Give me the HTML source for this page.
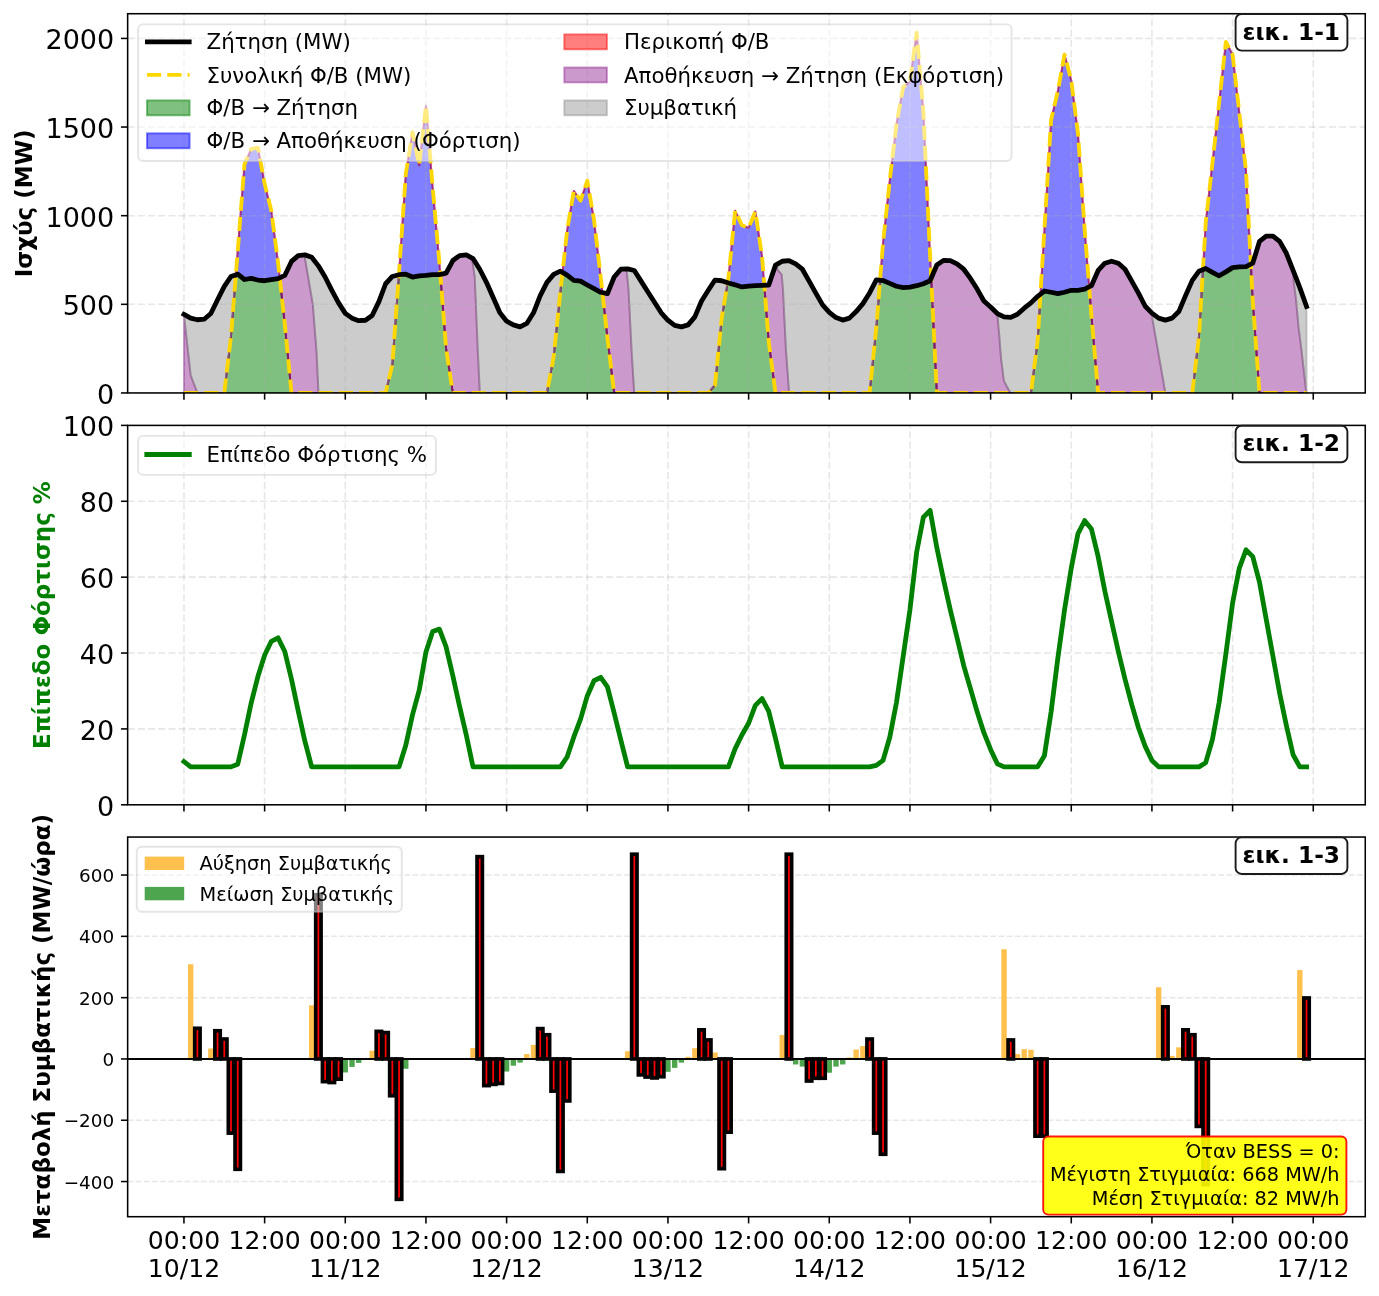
<!DOCTYPE html><html><head><meta charset="utf-8"><title>chart</title><style>html,body{margin:0;padding:0;background:#fff;}svg{display:block;}</style></head><body>
<svg width="1379" height="1296" viewBox="0 0 1379 1296" font-family="'DejaVu Sans', 'Liberation Sans', sans-serif">
<rect width="1379" height="1296" fill="#fff"/>
<defs><clipPath id="c1"><rect x="127.65" y="13.72" width="1237.61" height="379.23"/></clipPath><clipPath id="c2"><rect x="127.65" y="425.4" width="1237.61" height="379.4"/></clipPath><clipPath id="c3"><rect x="127.65" y="837.05" width="1237.61" height="379.65"/></clipPath></defs>
<g clip-path="url(#c1)">
<path d="M183.95 392.95 L224.28 392.95 L231 336.23 L235.84 274.96 L235.91 274.8 L237.73 274.18 L244.45 279.5 L251.17 278.44 L257.89 280.03 L264.62 280.74 L278.06 278.61 L279.67 277.85 L279.74 277.95 L284.78 323.82 L291.5 392.95 L385.61 392.95 L392.34 364.59 L398.92 274.75 L405.78 274.18 L412.5 277.02 L419.22 275.78 L425.95 275.42 L432.67 274.71 L439.39 274.54 L440.26 274.35 L446.11 348.63 L452.83 392.95 L546.94 392.95 L553.67 356.61 L560.39 291.73 L562.54 272.42 L567.11 275.07 L573.83 280.39 L580.55 281.1 L587.28 285 L596.28 289.92 L600.72 292.26 L602.4 292.62 L607.44 338 L614.16 392.95 L708.27 392.95 L715 385.15 L721.72 318.14 L727.63 282.77 L735.16 284.82 L741.88 286.95 L748.61 286.06 L764.27 285.23 L768.77 342.07 L775.49 392.95 L869.6 392.95 L876.33 327.36 L880.09 280.25 L883.05 280.56 L896.49 286.24 L903.21 287.65 L909.94 287.12 L916.66 285.7 L923.38 283.75 L930.1 280.74 L931.18 278.22 L936.83 392.95 L1030.93 392.95 L1037.66 340.66 L1040.48 294.11 L1044.38 291.02 L1051.1 292.26 L1057.82 293.68 L1064.55 292.26 L1071.27 290.31 L1077.99 290.31 L1084.71 289.07 L1089.15 286.85 L1091.43 315.49 L1098.16 392.95 L1192.27 392.95 L1198.99 336.23 L1202.95 269.6 L1205.71 268.51 L1212.43 272.41 L1219.15 275.78 L1225.88 271.88 L1232.6 267.62 L1239.32 266.91 L1246.04 266.56 L1250.81 264.17 L1252.76 300.95 L1259.49 392.95 L1306.54 392.95 L1306.54 392.95 L183.95 392.95 Z" fill="#008000" fill-opacity="0.5" stroke="#008000" stroke-opacity="0.5" stroke-width="1.92" stroke-linejoin="round"/>
<path d="M183.95 392.95 L224.28 392.95 L231 336.23 L244.45 164.28 L251.17 149.03 L257.89 147.62 L264.62 183.78 L271.34 210.72 L278.06 262.66 L284.78 323.82 L291.5 392.95 L385.61 392.95 L392.34 364.59 L399.06 272.41 L405.78 174.03 L412.5 132.19 L419.22 165.34 L425.95 105.78 L432.67 187.32 L439.39 262.48 L446.11 348.63 L452.83 392.95 L546.94 392.95 L553.67 356.61 L560.39 291.73 L567.11 230.4 L573.83 190.87 L580.55 200.62 L587.28 180.76 L594 219.76 L600.72 277.02 L607.44 338 L614.16 392.95 L708.27 392.95 L715 385.15 L721.72 318.14 L728.44 277.73 L735.16 210.72 L741.88 225.26 L748.61 227.92 L755.33 211.43 L762.05 256.46 L768.77 342.07 L775.49 392.95 L869.6 392.95 L876.33 327.36 L883.05 242.63 L889.77 180.23 L896.49 124.04 L903.21 86.99 L909.94 81.67 L916.66 32.57 L923.38 112.16 L930.1 255.92 L936.83 392.95 L1030.93 392.95 L1037.66 340.66 L1051.1 119.96 L1057.82 91.07 L1064.55 54.55 L1071.27 80.43 L1077.99 133.43 L1084.71 229.87 L1091.43 315.49 L1098.16 392.95 L1192.27 392.95 L1198.99 336.23 L1205.71 222.78 L1225.88 41.97 L1232.6 54.55 L1246.04 171.19 L1252.76 300.95 L1259.49 392.95 L1306.54 392.95 L1306.54 392.95 L1259.49 392.95 L1252.76 300.95 L1250.81 264.17 L1246.04 266.56 L1239.32 266.91 L1232.6 267.62 L1225.88 271.88 L1219.15 275.78 L1212.43 272.41 L1205.71 268.51 L1202.95 269.6 L1198.99 336.23 L1192.27 392.95 L1098.16 392.95 L1091.43 315.49 L1089.15 286.85 L1084.71 289.07 L1077.99 290.31 L1071.27 290.31 L1064.55 292.26 L1057.82 293.68 L1051.1 292.26 L1044.38 291.02 L1040.48 294.11 L1037.66 340.66 L1030.93 392.95 L936.83 392.95 L931.18 278.22 L930.1 280.74 L923.38 283.75 L916.66 285.7 L909.94 287.12 L903.21 287.65 L896.49 286.24 L883.05 280.56 L880.09 280.25 L876.33 327.36 L869.6 392.95 L775.49 392.95 L768.77 342.07 L764.27 285.23 L748.61 286.06 L741.88 286.95 L735.16 284.82 L727.63 282.77 L721.72 318.14 L715 385.15 L708.27 392.95 L614.16 392.95 L607.44 338 L602.4 292.62 L600.72 292.26 L596.28 289.92 L587.28 285 L580.55 281.1 L573.83 280.39 L567.11 275.07 L562.54 272.42 L560.39 291.73 L553.67 356.61 L546.94 392.95 L452.83 392.95 L446.11 348.63 L440.26 274.35 L439.39 274.54 L432.67 274.71 L425.95 275.42 L419.22 275.78 L412.5 277.02 L405.78 274.18 L398.92 274.75 L392.34 364.59 L385.61 392.95 L291.5 392.95 L284.78 323.82 L279.74 277.95 L279.67 277.85 L278.06 278.61 L264.62 280.74 L257.89 280.03 L251.17 278.44 L244.45 279.5 L237.73 274.18 L235.91 274.8 L235.84 274.96 L231 336.23 L224.28 392.95 L183.95 392.95 Z" fill="#0000ff" fill-opacity="0.5" stroke="#0000ff" stroke-opacity="0.5" stroke-width="1.92" stroke-linejoin="round"/>
<path d="M183.95 392.95 L224.28 392.95 L231 336.23 L244.45 164.28 L251.17 149.03 L257.89 147.62 L264.62 183.78 L271.34 210.72 L278.06 262.66 L284.78 323.82 L291.5 392.95 L385.61 392.95 L392.34 364.59 L399.06 272.41 L405.78 174.03 L412.5 132.19 L419.22 165.34 L425.95 105.78 L432.67 187.32 L439.39 262.48 L446.11 348.63 L452.83 392.95 L546.94 392.95 L553.67 356.61 L560.39 291.73 L567.11 230.4 L573.83 190.87 L580.55 200.62 L587.28 180.76 L594 219.76 L600.72 277.02 L607.44 338 L614.16 392.95 L708.27 392.95 L715 385.15 L721.72 318.14 L728.44 277.73 L735.16 210.72 L741.88 225.26 L748.61 227.92 L755.33 211.43 L762.05 256.46 L768.77 342.07 L775.49 392.95 L869.6 392.95 L876.33 327.36 L883.05 242.63 L889.77 180.23 L896.49 124.04 L903.21 86.99 L909.94 81.67 L916.66 32.57 L923.38 112.16 L930.1 255.92 L936.83 392.95 L1030.93 392.95 L1037.66 340.66 L1051.1 119.96 L1057.82 91.07 L1064.55 54.55 L1071.27 80.43 L1077.99 133.43 L1084.71 229.87 L1091.43 315.49 L1098.16 392.95 L1192.27 392.95 L1198.99 336.23 L1205.71 222.78 L1225.88 41.97 L1232.6 54.55 L1246.04 171.19 L1252.76 300.95 L1259.49 392.95 L1306.54 392.95 L1306.54 392.95 L1259.49 392.95 L1252.76 300.95 L1246.04 171.19 L1232.6 54.55 L1225.88 41.97 L1205.71 222.78 L1198.99 336.23 L1192.27 392.95 L1098.16 392.95 L1091.43 315.49 L1084.71 229.87 L1077.99 133.43 L1071.27 80.43 L1064.55 54.55 L1057.82 91.07 L1051.1 119.96 L1037.66 340.66 L1030.93 392.95 L936.83 392.95 L930.1 255.92 L923.38 112.16 L916.66 32.57 L909.94 81.67 L903.21 86.99 L896.49 124.04 L889.77 180.23 L883.05 242.63 L876.33 327.36 L869.6 392.95 L775.49 392.95 L768.77 342.07 L762.05 256.46 L755.33 211.43 L748.61 227.92 L741.88 225.26 L735.16 210.72 L728.44 277.73 L721.72 318.14 L715 385.15 L708.27 392.95 L614.16 392.95 L607.44 338 L600.72 277.02 L594 219.76 L587.28 180.76 L580.55 200.62 L573.83 190.87 L567.11 230.4 L560.39 291.73 L553.67 356.61 L546.94 392.95 L452.83 392.95 L446.11 348.63 L439.39 262.48 L432.67 187.32 L425.95 105.78 L419.22 165.34 L412.5 132.19 L405.78 174.03 L399.06 272.41 L392.34 364.59 L385.61 392.95 L291.5 392.95 L284.78 323.82 L278.06 262.66 L271.34 210.72 L264.62 183.78 L257.89 147.62 L251.17 149.03 L244.45 164.28 L231 336.23 L224.28 392.95 L183.95 392.95 Z" fill="#ff0000" fill-opacity="0.5" stroke="#ff0000" stroke-opacity="0.5" stroke-width="1.92" stroke-linejoin="round"/>
<path d="M183.95 314.42 L190.67 375.22 L197.39 392.95 L224.28 392.95 L231 336.23 L235.91 274.8 L237.73 274.18 L244.45 279.5 L251.17 278.44 L257.89 280.03 L264.62 280.74 L278.06 278.61 L284.78 275.42 L291.5 261.42 L298.23 255.57 L304.75 254.88 L304.81 257.34 L312.81 304.32 L316.51 351.12 L318.39 391.18 L318.73 392.95 L385.61 392.95 L392.34 364.59 L398.92 274.75 L405.78 274.18 L412.5 277.02 L419.22 275.78 L425.95 275.42 L432.67 274.71 L439.39 274.54 L446.11 273.12 L452.83 260.53 L459.56 255.57 L466.28 254.86 L472.19 258.14 L472.26 259.82 L474.75 277.02 L477.84 351.12 L479.72 390.65 L480.06 392.95 L546.94 392.95 L553.67 356.61 L560.39 291.73 L562.54 272.42 L567.11 275.07 L573.83 280.39 L580.55 281.1 L588.62 285.74 L600.72 292.26 L607.44 293.68 L614.16 277.02 L620.89 269.22 L626.67 268.91 L626.73 271.52 L628.55 289.43 L631.64 351.12 L634.13 391.18 L634.33 392.95 L708.27 392.95 L715 385.15 L721.72 318.14 L727.63 282.77 L735.16 284.82 L741.88 286.95 L748.61 286.06 L768.77 285 L775.49 265.14 L777.31 264.09 L777.38 269.57 L781.75 274.54 L782.96 289.43 L786.05 351.12 L789.14 392.95 L869.6 392.95 L876.33 327.36 L880.09 280.25 L883.05 280.56 L896.49 286.24 L903.21 287.65 L909.94 287.12 L916.66 285.7 L923.38 283.75 L930.1 280.74 L936.83 264.96 L943.55 260.36 L950.27 260.53 L956.99 263.9 L963.71 269.22 L970.44 278.44 L977.16 289.07 L983.88 300.95 L990.6 306.98 L997.32 313.54 L999.27 335.52 L1001.09 358.74 L1003.91 380.9 L1009.42 391.18 L1010.77 392.95 L1030.93 392.95 L1037.66 340.66 L1040.48 294.11 L1044.38 291.02 L1051.1 292.26 L1057.82 293.68 L1064.55 292.26 L1071.27 290.31 L1077.99 290.31 L1084.71 289.07 L1091.43 285.7 L1098.16 270.46 L1104.88 263.19 L1111.6 261.24 L1118.32 263.19 L1125.04 269.22 L1138.49 293.15 L1145.21 306.27 L1151.87 313.11 L1151.93 316.19 L1165.38 392.95 L1192.27 392.95 L1198.99 336.23 L1202.95 269.6 L1205.71 268.51 L1212.43 272.41 L1219.15 275.78 L1225.88 271.88 L1232.6 267.62 L1239.32 266.91 L1246.04 266.56 L1252.76 263.19 L1259.49 241.39 L1266.21 236.07 L1272.93 236.07 L1279.65 241.39 L1286.37 253.27 L1293.5 271.49 L1293.57 280.74 L1295.99 299.18 L1298.47 326.3 L1301.57 350.94 L1305.94 389.05 L1306.54 392.95 L1306.54 392.95 L1259.49 392.95 L1252.76 300.95 L1250.81 264.17 L1246.04 266.56 L1239.32 266.91 L1232.6 267.62 L1225.88 271.88 L1219.15 275.78 L1212.43 272.41 L1205.71 268.51 L1202.95 269.6 L1198.99 336.23 L1192.27 392.95 L1098.16 392.95 L1091.43 315.49 L1089.15 286.85 L1084.71 289.07 L1077.99 290.31 L1071.27 290.31 L1064.55 292.26 L1057.82 293.68 L1051.1 292.26 L1044.38 291.02 L1040.48 294.11 L1037.66 340.66 L1030.93 392.95 L936.83 392.95 L931.18 278.22 L930.1 280.74 L923.38 283.75 L916.66 285.7 L909.94 287.12 L903.21 287.65 L896.49 286.24 L883.05 280.56 L880.09 280.25 L876.33 327.36 L869.6 392.95 L775.49 392.95 L768.77 342.07 L764.27 285.23 L748.61 286.06 L741.88 286.95 L735.16 284.82 L727.63 282.77 L721.72 318.14 L715 385.15 L708.27 392.95 L614.16 392.95 L607.44 338 L602.4 292.62 L600.72 292.26 L596.28 289.92 L587.28 285 L580.55 281.1 L573.83 280.39 L567.11 275.07 L562.54 272.42 L560.39 291.73 L553.67 356.61 L546.94 392.95 L452.83 392.95 L446.11 348.63 L440.26 274.35 L439.39 274.54 L432.67 274.71 L425.95 275.42 L419.22 275.78 L412.5 277.02 L405.78 274.18 L398.92 274.75 L392.34 364.59 L385.61 392.95 L291.5 392.95 L284.78 323.82 L279.74 277.95 L279.67 277.85 L278.06 278.61 L264.62 280.74 L257.89 280.03 L251.17 278.44 L244.45 279.5 L237.73 274.18 L235.91 274.8 L235.84 274.96 L231 336.23 L224.28 392.95 L183.95 392.95 Z" fill="#800080" fill-opacity="0.4" stroke="#800080" stroke-opacity="0.4" stroke-width="1.92" stroke-linejoin="round"/>
<path d="M183.95 314.42 L190.67 318.14 L194.3 319.01 L197.39 319.74 L204.12 319.21 L210.84 313.54 L217.56 299.71 L224.28 286.41 L231 276.49 L237.73 274.18 L244.45 279.5 L251.17 278.44 L257.89 280.03 L264.62 280.74 L278.06 278.61 L284.78 275.42 L291.5 261.42 L298.23 255.57 L304.95 254.86 L311.67 257.17 L318.39 265.85 L325.11 277.02 L331.84 290.31 L338.56 302.9 L345.28 313.36 L352 318.14 L358.72 320.63 L365.45 320.27 L372.17 315.49 L378.89 301.66 L385.61 283.75 L392.34 276.49 L399.06 274.71 L405.78 274.18 L412.5 277.02 L419.22 275.78 L425.95 275.42 L432.67 274.71 L439.39 274.54 L446.11 273.12 L452.83 260.53 L459.56 255.57 L466.28 254.86 L473 258.58 L479.72 269.22 L486.44 282.34 L499.89 312.83 L506.61 321.16 L513.33 324.88 L520.06 326.83 L526.78 323.46 L533.5 312.83 L540.22 295.63 L546.94 282.34 L553.67 274.36 L560.39 271.17 L567.11 275.07 L573.83 280.39 L580.55 281.1 L588.62 285.74 L600.72 292.26 L607.44 293.68 L614.16 277.02 L620.89 269.22 L627.61 268.86 L634.33 270.46 L661.22 312.83 L667.94 320.27 L674.66 325.41 L681.39 326.83 L688.11 324.88 L694.83 316.9 L701.55 300.95 L708.27 290.31 L715 280.03 L721.72 280.74 L728.44 283.05 L735.16 284.82 L741.88 286.95 L748.61 286.06 L768.77 285 L775.49 265.14 L782.22 261.24 L788.94 260.53 L795.66 263.9 L802.38 269.22 L815.83 293.15 L822.55 304.85 L825.31 307.9 L829.27 312.29 L835.99 317.61 L842.72 320.09 L849.44 318.14 L856.16 311.59 L862.88 303.61 L869.6 292.97 L876.33 279.85 L883.05 280.56 L896.49 286.24 L903.21 287.65 L909.94 287.12 L916.66 285.7 L919.15 284.98 L923.38 283.75 L930.1 280.74 L936.83 264.96 L943.55 260.36 L950.27 260.53 L956.99 263.9 L963.71 269.22 L970.44 278.44 L977.16 289.07 L983.88 300.95 L990.6 306.98 L997.32 313.54 L1004.05 316.9 L1010.77 317.44 L1017.49 314.24 L1024.21 308.22 L1030.93 302.9 L1037.66 296.34 L1044.38 291.02 L1051.1 292.26 L1057.82 293.68 L1064.55 292.26 L1071.27 290.31 L1077.99 290.31 L1084.71 289.07 L1091.43 285.7 L1098.16 270.46 L1104.88 263.19 L1111.6 261.24 L1118.32 263.19 L1125.04 269.22 L1138.49 293.15 L1145.21 306.27 L1151.93 313.18 L1158.65 318.14 L1165.38 320.09 L1172.1 318.14 L1178.82 311.59 L1185.54 295.63 L1192.27 280.39 L1198.99 271.17 L1205.71 268.51 L1212.43 272.41 L1219.15 275.78 L1225.88 271.88 L1232.6 267.62 L1239.32 266.91 L1246.04 266.56 L1252.76 263.19 L1259.49 241.39 L1266.21 236.07 L1272.93 236.07 L1279.65 241.39 L1286.37 253.27 L1299.82 287.65 L1306.54 306.44 L1306.54 392.95 L1305.94 389.05 L1301.57 350.94 L1298.47 326.3 L1295.99 299.18 L1293.57 280.74 L1293.5 271.49 L1286.37 253.27 L1279.65 241.39 L1272.93 236.07 L1266.21 236.07 L1259.49 241.39 L1252.76 263.19 L1246.04 266.56 L1239.32 266.91 L1232.6 267.62 L1225.88 271.88 L1219.15 275.78 L1212.43 272.41 L1205.71 268.51 L1202.95 269.6 L1198.99 336.23 L1192.27 392.95 L1165.38 392.95 L1151.93 316.19 L1151.87 313.11 L1145.21 306.27 L1138.49 293.15 L1125.04 269.22 L1118.32 263.19 L1111.6 261.24 L1104.88 263.19 L1098.16 270.46 L1091.43 285.7 L1084.71 289.07 L1077.99 290.31 L1071.27 290.31 L1064.55 292.26 L1057.82 293.68 L1051.1 292.26 L1044.38 291.02 L1040.48 294.11 L1037.66 340.66 L1030.93 392.95 L1010.77 392.95 L1009.42 391.18 L1003.91 380.9 L1001.09 358.74 L999.27 335.52 L997.32 313.54 L990.6 306.98 L983.88 300.95 L977.16 289.07 L970.44 278.44 L963.71 269.22 L956.99 263.9 L950.27 260.53 L943.55 260.36 L936.83 264.96 L930.1 280.74 L923.38 283.75 L916.66 285.7 L909.94 287.12 L903.21 287.65 L896.49 286.24 L883.05 280.56 L880.09 280.25 L876.33 327.36 L869.6 392.95 L789.14 392.95 L786.05 351.12 L782.96 289.43 L781.75 274.54 L777.38 269.57 L777.31 264.09 L775.49 265.14 L768.77 285 L748.61 286.06 L741.88 286.95 L735.16 284.82 L727.63 282.77 L721.72 318.14 L715 385.15 L708.27 392.95 L634.33 392.95 L634.13 391.18 L631.64 351.12 L628.55 289.43 L626.73 271.52 L626.67 268.91 L620.89 269.22 L614.16 277.02 L607.44 293.68 L600.72 292.26 L588.62 285.74 L580.55 281.1 L573.83 280.39 L567.11 275.07 L562.54 272.42 L560.39 291.73 L553.67 356.61 L546.94 392.95 L480.06 392.95 L479.72 390.65 L477.84 351.12 L474.75 277.02 L472.26 259.82 L472.19 258.14 L466.28 254.86 L459.56 255.57 L452.83 260.53 L446.11 273.12 L439.39 274.54 L432.67 274.71 L425.95 275.42 L419.22 275.78 L412.5 277.02 L405.78 274.18 L398.92 274.75 L392.34 364.59 L385.61 392.95 L318.73 392.95 L318.39 391.18 L316.51 351.12 L312.81 304.32 L304.81 257.34 L304.75 254.88 L298.23 255.57 L291.5 261.42 L284.78 275.42 L278.06 278.61 L264.62 280.74 L257.89 280.03 L251.17 278.44 L244.45 279.5 L237.73 274.18 L235.91 274.8 L231 336.23 L224.28 392.95 L197.39 392.95 L190.67 375.22 L183.95 314.42 Z" fill="#808080" fill-opacity="0.4" stroke="#808080" stroke-opacity="0.4" stroke-width="1.92" stroke-linejoin="round"/>
<line x1="183.95" y1="392.95" x2="183.95" y2="13.72" stroke="#b0b0b0" stroke-opacity="0.3" stroke-width="1.6" stroke-dasharray="7.11 3.07" fill="none"/>
<line x1="264.62" y1="392.95" x2="264.62" y2="13.72" stroke="#b0b0b0" stroke-opacity="0.3" stroke-width="1.6" stroke-dasharray="7.11 3.07" fill="none"/>
<line x1="345.28" y1="392.95" x2="345.28" y2="13.72" stroke="#b0b0b0" stroke-opacity="0.3" stroke-width="1.6" stroke-dasharray="7.11 3.07" fill="none"/>
<line x1="425.95" y1="392.95" x2="425.95" y2="13.72" stroke="#b0b0b0" stroke-opacity="0.3" stroke-width="1.6" stroke-dasharray="7.11 3.07" fill="none"/>
<line x1="506.61" y1="392.95" x2="506.61" y2="13.72" stroke="#b0b0b0" stroke-opacity="0.3" stroke-width="1.6" stroke-dasharray="7.11 3.07" fill="none"/>
<line x1="587.28" y1="392.95" x2="587.28" y2="13.72" stroke="#b0b0b0" stroke-opacity="0.3" stroke-width="1.6" stroke-dasharray="7.11 3.07" fill="none"/>
<line x1="667.94" y1="392.95" x2="667.94" y2="13.72" stroke="#b0b0b0" stroke-opacity="0.3" stroke-width="1.6" stroke-dasharray="7.11 3.07" fill="none"/>
<line x1="748.61" y1="392.95" x2="748.61" y2="13.72" stroke="#b0b0b0" stroke-opacity="0.3" stroke-width="1.6" stroke-dasharray="7.11 3.07" fill="none"/>
<line x1="829.27" y1="392.95" x2="829.27" y2="13.72" stroke="#b0b0b0" stroke-opacity="0.3" stroke-width="1.6" stroke-dasharray="7.11 3.07" fill="none"/>
<line x1="909.94" y1="392.95" x2="909.94" y2="13.72" stroke="#b0b0b0" stroke-opacity="0.3" stroke-width="1.6" stroke-dasharray="7.11 3.07" fill="none"/>
<line x1="990.6" y1="392.95" x2="990.6" y2="13.72" stroke="#b0b0b0" stroke-opacity="0.3" stroke-width="1.6" stroke-dasharray="7.11 3.07" fill="none"/>
<line x1="1071.27" y1="392.95" x2="1071.27" y2="13.72" stroke="#b0b0b0" stroke-opacity="0.3" stroke-width="1.6" stroke-dasharray="7.11 3.07" fill="none"/>
<line x1="1151.93" y1="392.95" x2="1151.93" y2="13.72" stroke="#b0b0b0" stroke-opacity="0.3" stroke-width="1.6" stroke-dasharray="7.11 3.07" fill="none"/>
<line x1="1232.6" y1="392.95" x2="1232.6" y2="13.72" stroke="#b0b0b0" stroke-opacity="0.3" stroke-width="1.6" stroke-dasharray="7.11 3.07" fill="none"/>
<line x1="1313.26" y1="392.95" x2="1313.26" y2="13.72" stroke="#b0b0b0" stroke-opacity="0.3" stroke-width="1.6" stroke-dasharray="7.11 3.07" fill="none"/>
<line x1="127.65" y1="304.32" x2="1365.26" y2="304.32" stroke="#b0b0b0" stroke-opacity="0.3" stroke-width="1.6" stroke-dasharray="7.11 3.07" fill="none"/>
<line x1="127.65" y1="215.68" x2="1365.26" y2="215.68" stroke="#b0b0b0" stroke-opacity="0.3" stroke-width="1.6" stroke-dasharray="7.11 3.07" fill="none"/>
<line x1="127.65" y1="127.05" x2="1365.26" y2="127.05" stroke="#b0b0b0" stroke-opacity="0.3" stroke-width="1.6" stroke-dasharray="7.11 3.07" fill="none"/>
<line x1="127.65" y1="38.42" x2="1365.26" y2="38.42" stroke="#b0b0b0" stroke-opacity="0.3" stroke-width="1.6" stroke-dasharray="7.11 3.07" fill="none"/>
<path d="M183.95 392.95 L190.67 392.95 L197.39 392.95 L204.12 392.95 L210.84 392.95 L217.56 392.95 L224.28 392.95 L231 336.23 L237.73 251.14 L244.45 164.28 L251.17 149.03 L257.89 147.62 L264.62 183.78 L271.34 210.72 L278.06 262.66 L284.78 323.82 L291.5 392.95 L298.23 392.95 L304.95 392.95 L311.67 392.95 L318.39 392.95 L325.11 392.95 L331.84 392.95 L338.56 392.95 L345.28 392.95 L352 392.95 L358.72 392.95 L365.45 392.95 L372.17 392.95 L378.89 392.95 L385.61 392.95 L392.34 364.59 L399.06 272.41 L405.78 174.03 L412.5 132.19 L419.22 165.34 L425.95 105.78 L432.67 187.32 L439.39 262.48 L446.11 348.63 L452.83 392.95 L459.56 392.95 L466.28 392.95 L473 392.95 L479.72 392.95 L486.44 392.95 L493.17 392.95 L499.89 392.95 L506.61 392.95 L513.33 392.95 L520.06 392.95 L526.78 392.95 L533.5 392.95 L540.22 392.95 L546.94 392.95 L553.67 356.61 L560.39 291.73 L567.11 230.4 L573.83 190.87 L580.55 200.62 L587.28 180.76 L594 219.76 L600.72 277.02 L607.44 338 L614.16 392.95 L620.89 392.95 L627.61 392.95 L634.33 392.95 L641.05 392.95 L647.77 392.95 L654.5 392.95 L661.22 392.95 L667.94 392.95 L674.66 392.95 L681.39 392.95 L688.11 392.95 L694.83 392.95 L701.55 392.95 L708.27 392.95 L715 385.15 L721.72 318.14 L728.44 277.73 L735.16 210.72 L741.88 225.26 L748.61 227.92 L755.33 211.43 L762.05 256.46 L768.77 342.07 L775.49 392.95 L782.22 392.95 L788.94 392.95 L795.66 392.95 L802.38 392.95 L809.11 392.95 L815.83 392.95 L822.55 392.95 L829.27 392.95 L835.99 392.95 L842.72 392.95 L849.44 392.95 L856.16 392.95 L862.88 392.95 L869.6 392.95 L876.33 327.36 L883.05 242.63 L889.77 180.23 L896.49 124.04 L903.21 86.99 L909.94 81.67 L916.66 32.57 L923.38 112.16 L930.1 255.92 L936.83 392.95 L943.55 392.95 L950.27 392.95 L956.99 392.95 L963.71 392.95 L970.44 392.95 L977.16 392.95 L983.88 392.95 L990.6 392.95 L997.32 392.95 L1004.05 392.95 L1010.77 392.95 L1017.49 392.95 L1024.21 392.95 L1030.93 392.95 L1037.66 340.66 L1044.38 229.33 L1051.1 119.96 L1057.82 91.07 L1064.55 54.55 L1071.27 80.43 L1077.99 133.43 L1084.71 229.87 L1091.43 315.49 L1098.16 392.95 L1104.88 392.95 L1111.6 392.95 L1118.32 392.95 L1125.04 392.95 L1131.77 392.95 L1138.49 392.95 L1145.21 392.95 L1151.93 392.95 L1158.65 392.95 L1165.38 392.95 L1172.1 392.95 L1178.82 392.95 L1185.54 392.95 L1192.27 392.95 L1198.99 336.23 L1205.71 222.78 L1212.43 163.21 L1219.15 102.24 L1225.88 41.97 L1232.6 54.55 L1239.32 112.87 L1246.04 171.19 L1252.76 300.95 L1259.49 392.95 L1266.21 392.95 L1272.93 392.95 L1279.65 392.95 L1286.37 392.95 L1293.1 392.95 L1299.82 392.95 L1306.54 392.95" fill="none" stroke="#ffd700" stroke-width="3.84" stroke-dasharray="14.2 6.1" stroke-linejoin="round"/>
<path d="M183.95 314.42 L190.67 318.14 L197.39 319.74 L204.12 319.21 L210.84 313.54 L217.56 299.71 L224.28 286.41 L231 276.49 L237.73 274.18 L244.45 279.5 L251.17 278.44 L257.89 280.03 L264.62 280.74 L271.34 279.68 L278.06 278.61 L284.78 275.42 L291.5 261.42 L298.23 255.57 L304.95 254.86 L311.67 257.17 L318.39 265.85 L325.11 277.02 L331.84 290.31 L338.56 302.9 L345.28 313.36 L352 318.14 L358.72 320.63 L365.45 320.27 L372.17 315.49 L378.89 301.66 L385.61 283.75 L392.34 276.49 L399.06 274.71 L405.78 274.18 L412.5 277.02 L419.22 275.78 L425.95 275.42 L432.67 274.71 L439.39 274.54 L446.11 273.12 L452.83 260.53 L459.56 255.57 L466.28 254.86 L473 258.58 L479.72 269.22 L486.44 282.34 L493.17 297.58 L499.89 312.83 L506.61 321.16 L513.33 324.88 L520.06 326.83 L526.78 323.46 L533.5 312.83 L540.22 295.63 L546.94 282.34 L553.67 274.36 L560.39 271.17 L567.11 275.07 L573.83 280.39 L580.55 281.1 L587.28 285 L594 288.72 L600.72 292.26 L607.44 293.68 L614.16 277.02 L620.89 269.22 L627.61 268.86 L634.33 270.46 L641.05 281.1 L647.77 291.73 L654.5 302.19 L661.22 312.83 L667.94 320.27 L674.66 325.41 L681.39 326.83 L688.11 324.88 L694.83 316.9 L701.55 300.95 L708.27 290.31 L715 280.03 L721.72 280.74 L728.44 283.05 L735.16 284.82 L741.88 286.95 L748.61 286.06 L755.33 285.7 L762.05 285.35 L768.77 285 L775.49 265.14 L782.22 261.24 L788.94 260.53 L795.66 263.9 L802.38 269.22 L809.11 281.1 L815.83 293.15 L822.55 304.85 L829.27 312.29 L835.99 317.61 L842.72 320.09 L849.44 318.14 L856.16 311.59 L862.88 303.61 L869.6 292.97 L876.33 279.85 L883.05 280.56 L889.77 283.4 L896.49 286.24 L903.21 287.65 L909.94 287.12 L916.66 285.7 L923.38 283.75 L930.1 280.74 L936.83 264.96 L943.55 260.36 L950.27 260.53 L956.99 263.9 L963.71 269.22 L970.44 278.44 L977.16 289.07 L983.88 300.95 L990.6 306.98 L997.32 313.54 L1004.05 316.9 L1010.77 317.44 L1017.49 314.24 L1024.21 308.22 L1030.93 302.9 L1037.66 296.34 L1044.38 291.02 L1051.1 292.26 L1057.82 293.68 L1064.55 292.26 L1071.27 290.31 L1077.99 290.31 L1084.71 289.07 L1091.43 285.7 L1098.16 270.46 L1104.88 263.19 L1111.6 261.24 L1118.32 263.19 L1125.04 269.22 L1131.77 281.1 L1138.49 293.15 L1145.21 306.27 L1151.93 313.18 L1158.65 318.14 L1165.38 320.09 L1172.1 318.14 L1178.82 311.59 L1185.54 295.63 L1192.27 280.39 L1198.99 271.17 L1205.71 268.51 L1212.43 272.41 L1219.15 275.78 L1225.88 271.88 L1232.6 267.62 L1239.32 266.91 L1246.04 266.56 L1252.76 263.19 L1259.49 241.39 L1266.21 236.07 L1272.93 236.07 L1279.65 241.39 L1286.37 253.27 L1293.1 270.46 L1299.82 287.65 L1306.54 306.44" fill="none" stroke="#000" stroke-width="4.8" stroke-linejoin="round" stroke-linecap="square"/>
</g>
<g clip-path="url(#c2)">
<line x1="183.95" y1="804.8" x2="183.95" y2="425.4" stroke="#b0b0b0" stroke-opacity="0.3" stroke-width="1.6" stroke-dasharray="7.11 3.07" fill="none"/>
<line x1="264.62" y1="804.8" x2="264.62" y2="425.4" stroke="#b0b0b0" stroke-opacity="0.3" stroke-width="1.6" stroke-dasharray="7.11 3.07" fill="none"/>
<line x1="345.28" y1="804.8" x2="345.28" y2="425.4" stroke="#b0b0b0" stroke-opacity="0.3" stroke-width="1.6" stroke-dasharray="7.11 3.07" fill="none"/>
<line x1="425.95" y1="804.8" x2="425.95" y2="425.4" stroke="#b0b0b0" stroke-opacity="0.3" stroke-width="1.6" stroke-dasharray="7.11 3.07" fill="none"/>
<line x1="506.61" y1="804.8" x2="506.61" y2="425.4" stroke="#b0b0b0" stroke-opacity="0.3" stroke-width="1.6" stroke-dasharray="7.11 3.07" fill="none"/>
<line x1="587.28" y1="804.8" x2="587.28" y2="425.4" stroke="#b0b0b0" stroke-opacity="0.3" stroke-width="1.6" stroke-dasharray="7.11 3.07" fill="none"/>
<line x1="667.94" y1="804.8" x2="667.94" y2="425.4" stroke="#b0b0b0" stroke-opacity="0.3" stroke-width="1.6" stroke-dasharray="7.11 3.07" fill="none"/>
<line x1="748.61" y1="804.8" x2="748.61" y2="425.4" stroke="#b0b0b0" stroke-opacity="0.3" stroke-width="1.6" stroke-dasharray="7.11 3.07" fill="none"/>
<line x1="829.27" y1="804.8" x2="829.27" y2="425.4" stroke="#b0b0b0" stroke-opacity="0.3" stroke-width="1.6" stroke-dasharray="7.11 3.07" fill="none"/>
<line x1="909.94" y1="804.8" x2="909.94" y2="425.4" stroke="#b0b0b0" stroke-opacity="0.3" stroke-width="1.6" stroke-dasharray="7.11 3.07" fill="none"/>
<line x1="990.6" y1="804.8" x2="990.6" y2="425.4" stroke="#b0b0b0" stroke-opacity="0.3" stroke-width="1.6" stroke-dasharray="7.11 3.07" fill="none"/>
<line x1="1071.27" y1="804.8" x2="1071.27" y2="425.4" stroke="#b0b0b0" stroke-opacity="0.3" stroke-width="1.6" stroke-dasharray="7.11 3.07" fill="none"/>
<line x1="1151.93" y1="804.8" x2="1151.93" y2="425.4" stroke="#b0b0b0" stroke-opacity="0.3" stroke-width="1.6" stroke-dasharray="7.11 3.07" fill="none"/>
<line x1="1232.6" y1="804.8" x2="1232.6" y2="425.4" stroke="#b0b0b0" stroke-opacity="0.3" stroke-width="1.6" stroke-dasharray="7.11 3.07" fill="none"/>
<line x1="1313.26" y1="804.8" x2="1313.26" y2="425.4" stroke="#b0b0b0" stroke-opacity="0.3" stroke-width="1.6" stroke-dasharray="7.11 3.07" fill="none"/>
<line x1="127.65" y1="728.92" x2="1365.26" y2="728.92" stroke="#b0b0b0" stroke-opacity="0.3" stroke-width="1.6" stroke-dasharray="7.11 3.07" fill="none"/>
<line x1="127.65" y1="653.04" x2="1365.26" y2="653.04" stroke="#b0b0b0" stroke-opacity="0.3" stroke-width="1.6" stroke-dasharray="7.11 3.07" fill="none"/>
<line x1="127.65" y1="577.16" x2="1365.26" y2="577.16" stroke="#b0b0b0" stroke-opacity="0.3" stroke-width="1.6" stroke-dasharray="7.11 3.07" fill="none"/>
<line x1="127.65" y1="501.28" x2="1365.26" y2="501.28" stroke="#b0b0b0" stroke-opacity="0.3" stroke-width="1.6" stroke-dasharray="7.11 3.07" fill="none"/>
<path d="M183.95 761.55 L190.67 766.86 L197.39 766.86 L204.12 766.86 L210.84 766.86 L217.56 766.86 L224.28 766.86 L231 766.86 L237.73 764.2 L244.45 734.99 L251.17 703.12 L257.89 676.56 L264.62 655.32 L271.34 641.28 L278.06 637.86 L284.78 651.52 L291.5 679.22 L298.23 711.09 L304.95 741.44 L311.67 766.86 L318.39 766.86 L325.11 766.86 L331.84 766.86 L338.56 766.86 L345.28 766.86 L352 766.86 L358.72 766.86 L365.45 766.86 L372.17 766.86 L378.89 766.86 L385.61 766.86 L392.34 766.86 L399.06 766.86 L405.78 745.23 L412.5 714.88 L419.22 690.22 L425.95 651.9 L432.67 631.41 L439.39 629.14 L446.11 646.97 L452.83 675.8 L459.56 706.16 L466.28 734.99 L473 766.86 L479.72 766.86 L486.44 766.86 L493.17 766.86 L499.89 766.86 L506.61 766.86 L513.33 766.86 L520.06 766.86 L526.78 766.86 L533.5 766.86 L540.22 766.86 L546.94 766.86 L553.67 766.86 L560.39 766.86 L567.11 757 L573.83 736.89 L580.55 719.06 L587.28 695.91 L594 680.74 L600.72 677.32 L607.44 686.81 L614.16 712.99 L620.89 740.3 L627.61 766.86 L634.33 766.86 L641.05 766.86 L647.77 766.86 L654.5 766.86 L661.22 766.86 L667.94 766.86 L674.66 766.86 L681.39 766.86 L688.11 766.86 L694.83 766.86 L701.55 766.86 L708.27 766.86 L715 766.86 L721.72 766.86 L728.44 766.86 L735.16 748.65 L741.88 734.99 L748.61 723.23 L755.33 705.4 L762.05 698.57 L768.77 711.47 L775.49 738.4 L782.22 766.86 L788.94 766.86 L795.66 766.86 L802.38 766.86 L809.11 766.86 L815.83 766.86 L822.55 766.86 L829.27 766.86 L835.99 766.86 L842.72 766.86 L849.44 766.86 L856.16 766.86 L862.88 766.86 L869.6 766.86 L876.33 765.34 L883.05 760.41 L889.77 737.27 L896.49 702.36 L903.21 656.08 L909.94 609.79 L916.66 552.12 L923.38 517.21 L930.1 510.39 L936.83 547.57 L943.55 579.82 L950.27 609.79 L956.99 637.48 L963.71 665.56 L970.44 688.7 L977.16 711.85 L983.88 732.71 L990.6 749.41 L997.32 763.82 L1004.05 766.86 L1010.77 766.86 L1017.49 766.86 L1024.21 766.86 L1030.93 766.86 L1037.66 766.86 L1044.38 755.86 L1051.1 711.85 L1057.82 658.35 L1064.55 609.79 L1071.27 568.05 L1077.99 533.53 L1084.71 520.63 L1091.43 528.98 L1098.16 556.67 L1104.88 591.2 L1111.6 621.55 L1118.32 651.52 L1125.04 679.22 L1131.77 704.64 L1138.49 727.78 L1145.21 746.37 L1151.93 760.41 L1158.65 766.86 L1165.38 766.86 L1172.1 766.86 L1178.82 766.86 L1185.54 766.86 L1192.27 766.86 L1198.99 766.86 L1205.71 762.69 L1212.43 739.54 L1219.15 702.36 L1225.88 653.8 L1232.6 602.96 L1239.32 568.05 L1246.04 549.84 L1252.76 556.67 L1259.49 582.09 L1266.21 619.27 L1272.93 656.08 L1279.65 693.26 L1286.37 725.51 L1293.1 754.72 L1299.82 766.86 L1306.54 766.86" fill="none" stroke="#008000" stroke-width="4.8" stroke-linejoin="round" stroke-linecap="square"/>
</g>
<g clip-path="url(#c3)">
<line x1="127.65" y1="1181.55" x2="1365.26" y2="1181.55" stroke="#b0b0b0" stroke-opacity="0.3" stroke-width="1.54" stroke-dasharray="5.68 2.46" fill="none"/>
<line x1="127.65" y1="1120.25" x2="1365.26" y2="1120.25" stroke="#b0b0b0" stroke-opacity="0.3" stroke-width="1.54" stroke-dasharray="5.68 2.46" fill="none"/>
<line x1="127.65" y1="997.65" x2="1365.26" y2="997.65" stroke="#b0b0b0" stroke-opacity="0.3" stroke-width="1.54" stroke-dasharray="5.68 2.46" fill="none"/>
<line x1="127.65" y1="936.35" x2="1365.26" y2="936.35" stroke="#b0b0b0" stroke-opacity="0.3" stroke-width="1.54" stroke-dasharray="5.68 2.46" fill="none"/>
<line x1="127.65" y1="875.05" x2="1365.26" y2="875.05" stroke="#b0b0b0" stroke-opacity="0.3" stroke-width="1.54" stroke-dasharray="5.68 2.46" fill="none"/>
<rect x="187.98" y="964.24" width="5.38" height="94.71" fill="#ffc04d"/>
<rect x="208.15" y="1048.53" width="5.38" height="10.42" fill="#ffc04d"/>
<rect x="308.98" y="1005.31" width="5.38" height="53.64" fill="#ffc04d"/>
<rect x="342.59" y="1058.95" width="5.38" height="13.49" fill="#4da64d"/>
<rect x="349.31" y="1058.95" width="5.38" height="7.97" fill="#4da64d"/>
<rect x="356.04" y="1058.95" width="5.38" height="3.98" fill="#4da64d"/>
<rect x="369.48" y="1050.67" width="5.38" height="8.28" fill="#ffc04d"/>
<rect x="403.09" y="1058.95" width="5.38" height="9.81" fill="#4da64d"/>
<rect x="470.31" y="1047.92" width="5.38" height="11.03" fill="#ffc04d"/>
<rect x="503.92" y="1058.95" width="5.38" height="12.57" fill="#4da64d"/>
<rect x="510.64" y="1058.95" width="5.38" height="6.74" fill="#4da64d"/>
<rect x="517.37" y="1058.95" width="5.38" height="3.68" fill="#4da64d"/>
<rect x="524.09" y="1054.05" width="5.38" height="4.9" fill="#ffc04d"/>
<rect x="530.81" y="1044.85" width="5.38" height="14.1" fill="#ffc04d"/>
<rect x="624.92" y="1051.29" width="5.38" height="7.66" fill="#ffc04d"/>
<rect x="665.25" y="1058.95" width="5.38" height="12.87" fill="#4da64d"/>
<rect x="671.97" y="1058.95" width="5.38" height="8.89" fill="#4da64d"/>
<rect x="678.7" y="1058.95" width="5.38" height="3.68" fill="#4da64d"/>
<rect x="685.42" y="1056.8" width="5.38" height="2.15" fill="#ffc04d"/>
<rect x="692.14" y="1048.22" width="5.38" height="10.73" fill="#ffc04d"/>
<rect x="712.31" y="1052.51" width="5.38" height="6.44" fill="#ffc04d"/>
<rect x="779.53" y="1035.04" width="5.38" height="23.91" fill="#ffc04d"/>
<rect x="792.97" y="1058.95" width="5.38" height="5.52" fill="#4da64d"/>
<rect x="799.69" y="1058.95" width="5.38" height="7.66" fill="#4da64d"/>
<rect x="826.58" y="1058.95" width="5.38" height="13.79" fill="#4da64d"/>
<rect x="833.3" y="1058.95" width="5.38" height="7.66" fill="#4da64d"/>
<rect x="840.03" y="1058.95" width="5.38" height="5.52" fill="#4da64d"/>
<rect x="846.75" y="1057.42" width="5.38" height="1.53" fill="#ffc04d"/>
<rect x="853.47" y="1049.45" width="5.38" height="9.5" fill="#ffc04d"/>
<rect x="860.19" y="1046.08" width="5.38" height="12.87" fill="#ffc04d"/>
<rect x="1001.36" y="949.22" width="5.38" height="109.73" fill="#ffc04d"/>
<rect x="1014.8" y="1054.05" width="5.38" height="4.9" fill="#ffc04d"/>
<rect x="1021.52" y="1049.14" width="5.38" height="9.81" fill="#ffc04d"/>
<rect x="1028.25" y="1049.76" width="5.38" height="9.19" fill="#ffc04d"/>
<rect x="1155.97" y="987.23" width="5.38" height="71.72" fill="#ffc04d"/>
<rect x="1169.41" y="1055.88" width="5.38" height="3.07" fill="#ffc04d"/>
<rect x="1176.13" y="1047.3" width="5.38" height="11.65" fill="#ffc04d"/>
<rect x="1297.13" y="970.07" width="5.38" height="88.88" fill="#ffc04d"/>
<line x1="127.65" y1="1058.95" x2="1365.26" y2="1058.95" stroke="#000" stroke-width="1.9"/>
<rect x="194.71" y="1028.3" width="5.38" height="30.65" fill="#ff0000" stroke="#000" stroke-width="3.65"/>
<rect x="214.87" y="1030.75" width="5.38" height="28.2" fill="#ff0000" stroke="#000" stroke-width="3.65"/>
<rect x="221.59" y="1039.03" width="5.38" height="19.92" fill="#ff0000" stroke="#000" stroke-width="3.65"/>
<rect x="228.32" y="1058.95" width="5.38" height="74.17" fill="#ff0000" stroke="#000" stroke-width="3.65"/>
<rect x="235.04" y="1058.95" width="5.38" height="110.34" fill="#ff0000" stroke="#000" stroke-width="3.65"/>
<rect x="315.7" y="894.67" width="5.38" height="164.28" fill="#ff0000" stroke="#000" stroke-width="3.65"/>
<rect x="322.43" y="1058.95" width="5.38" height="22.68" fill="#ff0000" stroke="#000" stroke-width="3.65"/>
<rect x="329.15" y="1058.95" width="5.38" height="23.6" fill="#ff0000" stroke="#000" stroke-width="3.65"/>
<rect x="335.87" y="1058.95" width="5.38" height="20.23" fill="#ff0000" stroke="#000" stroke-width="3.65"/>
<rect x="376.2" y="1031.37" width="5.38" height="27.59" fill="#ff0000" stroke="#000" stroke-width="3.65"/>
<rect x="382.92" y="1032.59" width="5.38" height="26.36" fill="#ff0000" stroke="#000" stroke-width="3.65"/>
<rect x="389.65" y="1058.95" width="5.38" height="36.78" fill="#ff0000" stroke="#000" stroke-width="3.65"/>
<rect x="396.37" y="1058.95" width="5.38" height="140.38" fill="#ff0000" stroke="#000" stroke-width="3.65"/>
<rect x="477.03" y="856.66" width="5.38" height="202.29" fill="#ff0000" stroke="#000" stroke-width="3.65"/>
<rect x="483.76" y="1058.95" width="5.38" height="26.67" fill="#ff0000" stroke="#000" stroke-width="3.65"/>
<rect x="490.48" y="1058.95" width="5.38" height="25.44" fill="#ff0000" stroke="#000" stroke-width="3.65"/>
<rect x="497.2" y="1058.95" width="5.38" height="24.52" fill="#ff0000" stroke="#000" stroke-width="3.65"/>
<rect x="537.53" y="1028.61" width="5.38" height="30.34" fill="#ff0000" stroke="#000" stroke-width="3.65"/>
<rect x="544.25" y="1034.74" width="5.38" height="24.21" fill="#ff0000" stroke="#000" stroke-width="3.65"/>
<rect x="550.98" y="1058.95" width="5.38" height="32.18" fill="#ff0000" stroke="#000" stroke-width="3.65"/>
<rect x="557.7" y="1058.95" width="5.38" height="112.49" fill="#ff0000" stroke="#000" stroke-width="3.65"/>
<rect x="564.42" y="1058.95" width="5.38" height="41.99" fill="#ff0000" stroke="#000" stroke-width="3.65"/>
<rect x="631.64" y="854.21" width="5.38" height="204.74" fill="#ff0000" stroke="#000" stroke-width="3.65"/>
<rect x="638.36" y="1058.95" width="5.38" height="15.94" fill="#ff0000" stroke="#000" stroke-width="3.65"/>
<rect x="645.09" y="1058.95" width="5.38" height="18.08" fill="#ff0000" stroke="#000" stroke-width="3.65"/>
<rect x="651.81" y="1058.95" width="5.38" height="19" fill="#ff0000" stroke="#000" stroke-width="3.65"/>
<rect x="658.53" y="1058.95" width="5.38" height="17.78" fill="#ff0000" stroke="#000" stroke-width="3.65"/>
<rect x="698.86" y="1029.83" width="5.38" height="29.12" fill="#ff0000" stroke="#000" stroke-width="3.65"/>
<rect x="705.58" y="1039.95" width="5.38" height="19" fill="#ff0000" stroke="#000" stroke-width="3.65"/>
<rect x="719.03" y="1058.95" width="5.38" height="109.73" fill="#ff0000" stroke="#000" stroke-width="3.65"/>
<rect x="725.75" y="1058.95" width="5.38" height="73.25" fill="#ff0000" stroke="#000" stroke-width="3.65"/>
<rect x="786.25" y="854.21" width="5.38" height="204.74" fill="#ff0000" stroke="#000" stroke-width="3.65"/>
<rect x="806.42" y="1058.95" width="5.38" height="22.07" fill="#ff0000" stroke="#000" stroke-width="3.65"/>
<rect x="813.14" y="1058.95" width="5.38" height="19.31" fill="#ff0000" stroke="#000" stroke-width="3.65"/>
<rect x="819.86" y="1058.95" width="5.38" height="19.31" fill="#ff0000" stroke="#000" stroke-width="3.65"/>
<rect x="866.92" y="1039.03" width="5.38" height="19.92" fill="#ff0000" stroke="#000" stroke-width="3.65"/>
<rect x="873.64" y="1058.95" width="5.38" height="74.17" fill="#ff0000" stroke="#000" stroke-width="3.65"/>
<rect x="880.36" y="1058.95" width="5.38" height="95.32" fill="#ff0000" stroke="#000" stroke-width="3.65"/>
<rect x="1008.08" y="1039.95" width="5.38" height="19" fill="#ff0000" stroke="#000" stroke-width="3.65"/>
<rect x="1034.97" y="1058.95" width="5.38" height="77.24" fill="#ff0000" stroke="#000" stroke-width="3.65"/>
<rect x="1041.69" y="1058.95" width="5.38" height="77.24" fill="#ff0000" stroke="#000" stroke-width="3.65"/>
<rect x="1162.69" y="1006.85" width="5.38" height="52.11" fill="#ff0000" stroke="#000" stroke-width="3.65"/>
<rect x="1182.85" y="1029.83" width="5.38" height="29.12" fill="#ff0000" stroke="#000" stroke-width="3.65"/>
<rect x="1189.58" y="1034.74" width="5.38" height="24.21" fill="#ff0000" stroke="#000" stroke-width="3.65"/>
<rect x="1196.3" y="1058.95" width="5.38" height="67.43" fill="#ff0000" stroke="#000" stroke-width="3.65"/>
<rect x="1203.02" y="1058.95" width="5.38" height="125.66" fill="#ff0000" stroke="#000" stroke-width="3.65"/>
<rect x="1303.85" y="997.96" width="5.38" height="60.99" fill="#ff0000" stroke="#000" stroke-width="3.65"/>
</g>
<rect x="138.1" y="24.4" width="873.5" height="136.6" rx="5" fill="#fff" fill-opacity="0.5" stroke="#cccccc" stroke-opacity="0.5" stroke-width="1.9"/>
<line x1="147.4" y1="41.85" x2="189.2" y2="41.85" stroke="#000" stroke-width="4.8" stroke-linecap="square"/>
<line x1="147" y1="74.95" x2="189.6" y2="74.95" stroke="#ffd700" stroke-width="3.84" stroke-dasharray="14.2 6.1"/>
<rect x="147" y="100.4" width="42.6" height="14.9" fill="#008000" fill-opacity="0.5" stroke="#008000" stroke-opacity="0.5" stroke-width="1.92"/>
<rect x="147" y="133.35" width="42.6" height="14.9" fill="#0000ff" fill-opacity="0.5" stroke="#0000ff" stroke-opacity="0.5" stroke-width="1.92"/>
<rect x="564.3" y="34.4" width="42.6" height="14.9" fill="#ff0000" fill-opacity="0.5" stroke="#ff0000" stroke-opacity="0.5" stroke-width="1.92"/>
<rect x="564.3" y="67.5" width="42.6" height="14.9" fill="#800080" fill-opacity="0.4" stroke="#800080" stroke-opacity="0.4" stroke-width="1.92"/>
<rect x="564.3" y="100.4" width="42.6" height="14.9" fill="#808080" fill-opacity="0.4" stroke="#808080" stroke-opacity="0.4" stroke-width="1.92"/>
<text x="206.6" y="49.45" font-size="21.3">Ζήτηση (MW)</text>
<text x="206.6" y="82.55" font-size="21.3">Συνολική Φ/Β (MW)</text>
<text x="206.6" y="115.45" font-size="21.3">Φ/Β → Ζήτηση</text>
<text x="206.6" y="148.4" font-size="21.3">Φ/Β → Αποθήκευση (Φόρτιση)</text>
<text x="624" y="49.45" font-size="21.3">Περικοπή Φ/Β</text>
<text x="624" y="82.55" font-size="21.3">Αποθήκευση → Ζήτηση (Εκφόρτιση)</text>
<text x="624" y="115.45" font-size="21.3">Συμβατική</text>
<rect x="138.1" y="435.9" width="297.8" height="39" rx="5" fill="#fff" fill-opacity="0.5" stroke="#cccccc" stroke-opacity="0.5" stroke-width="1.9"/>
<line x1="146.8" y1="454.5" x2="189.3" y2="454.5" stroke="#008000" stroke-width="4.8" stroke-linecap="square"/>
<text x="206.6" y="462.1" font-size="21.3">Επίπεδο Φόρτισης %</text>
<rect x="136.8" y="846.8" width="265" height="65" rx="5" fill="#fff" fill-opacity="0.5" stroke="#cccccc" stroke-opacity="0.5" stroke-width="1.9"/>
<rect x="144.7" y="856.6" width="39.5" height="13.4" fill="#ffc04d"/>
<rect x="144.7" y="886.9" width="39.5" height="13.4" fill="#4da64d"/>
<text x="199.6" y="870.2" font-size="19.35">Αύξηση Συμβατικής</text>
<text x="199.6" y="900.5" font-size="19.35">Μείωση Συμβατικής</text>
<rect x="1043.2" y="1136.5" width="303.2" height="78.1" rx="5" fill="#ffff00" fill-opacity="0.9" stroke="#ff0000" stroke-opacity="0.9" stroke-width="1.9"/>
<text x="1339.6" y="1158.2" font-size="19.3" text-anchor="end">Όταν BESS = 0:</text>
<text x="1339.6" y="1181.4" font-size="19.3" text-anchor="end">Μέγιστη Στιγμιαία: 668 MW/h</text>
<text x="1339.6" y="1204.6" font-size="19.3" text-anchor="end">Μέση Στιγμιαία: 82 MW/h</text>
<rect x="127.65" y="13.72" width="1237.61" height="379.23" fill="none" stroke="#000" stroke-width="1.55" stroke-linejoin="miter"/>
<rect x="127.65" y="425.4" width="1237.61" height="379.4" fill="none" stroke="#000" stroke-width="1.55" stroke-linejoin="miter"/>
<rect x="127.65" y="837.05" width="1237.61" height="379.65" fill="none" stroke="#000" stroke-width="1.55" stroke-linejoin="miter"/>
<line x1="183.95" y1="392.95" x2="183.95" y2="399.65" stroke="#000" stroke-width="1.55"/>
<line x1="264.62" y1="392.95" x2="264.62" y2="399.65" stroke="#000" stroke-width="1.55"/>
<line x1="345.28" y1="392.95" x2="345.28" y2="399.65" stroke="#000" stroke-width="1.55"/>
<line x1="425.95" y1="392.95" x2="425.95" y2="399.65" stroke="#000" stroke-width="1.55"/>
<line x1="506.61" y1="392.95" x2="506.61" y2="399.65" stroke="#000" stroke-width="1.55"/>
<line x1="587.28" y1="392.95" x2="587.28" y2="399.65" stroke="#000" stroke-width="1.55"/>
<line x1="667.94" y1="392.95" x2="667.94" y2="399.65" stroke="#000" stroke-width="1.55"/>
<line x1="748.61" y1="392.95" x2="748.61" y2="399.65" stroke="#000" stroke-width="1.55"/>
<line x1="829.27" y1="392.95" x2="829.27" y2="399.65" stroke="#000" stroke-width="1.55"/>
<line x1="909.94" y1="392.95" x2="909.94" y2="399.65" stroke="#000" stroke-width="1.55"/>
<line x1="990.6" y1="392.95" x2="990.6" y2="399.65" stroke="#000" stroke-width="1.55"/>
<line x1="1071.27" y1="392.95" x2="1071.27" y2="399.65" stroke="#000" stroke-width="1.55"/>
<line x1="1151.93" y1="392.95" x2="1151.93" y2="399.65" stroke="#000" stroke-width="1.55"/>
<line x1="1232.6" y1="392.95" x2="1232.6" y2="399.65" stroke="#000" stroke-width="1.55"/>
<line x1="1313.26" y1="392.95" x2="1313.26" y2="399.65" stroke="#000" stroke-width="1.55"/>
<line x1="183.95" y1="804.8" x2="183.95" y2="811.5" stroke="#000" stroke-width="1.55"/>
<line x1="264.62" y1="804.8" x2="264.62" y2="811.5" stroke="#000" stroke-width="1.55"/>
<line x1="345.28" y1="804.8" x2="345.28" y2="811.5" stroke="#000" stroke-width="1.55"/>
<line x1="425.95" y1="804.8" x2="425.95" y2="811.5" stroke="#000" stroke-width="1.55"/>
<line x1="506.61" y1="804.8" x2="506.61" y2="811.5" stroke="#000" stroke-width="1.55"/>
<line x1="587.28" y1="804.8" x2="587.28" y2="811.5" stroke="#000" stroke-width="1.55"/>
<line x1="667.94" y1="804.8" x2="667.94" y2="811.5" stroke="#000" stroke-width="1.55"/>
<line x1="748.61" y1="804.8" x2="748.61" y2="811.5" stroke="#000" stroke-width="1.55"/>
<line x1="829.27" y1="804.8" x2="829.27" y2="811.5" stroke="#000" stroke-width="1.55"/>
<line x1="909.94" y1="804.8" x2="909.94" y2="811.5" stroke="#000" stroke-width="1.55"/>
<line x1="990.6" y1="804.8" x2="990.6" y2="811.5" stroke="#000" stroke-width="1.55"/>
<line x1="1071.27" y1="804.8" x2="1071.27" y2="811.5" stroke="#000" stroke-width="1.55"/>
<line x1="1151.93" y1="804.8" x2="1151.93" y2="811.5" stroke="#000" stroke-width="1.55"/>
<line x1="1232.6" y1="804.8" x2="1232.6" y2="811.5" stroke="#000" stroke-width="1.55"/>
<line x1="1313.26" y1="804.8" x2="1313.26" y2="811.5" stroke="#000" stroke-width="1.55"/>
<line x1="183.95" y1="1216.7" x2="183.95" y2="1223.4" stroke="#000" stroke-width="1.55"/>
<line x1="264.62" y1="1216.7" x2="264.62" y2="1223.4" stroke="#000" stroke-width="1.55"/>
<line x1="345.28" y1="1216.7" x2="345.28" y2="1223.4" stroke="#000" stroke-width="1.55"/>
<line x1="425.95" y1="1216.7" x2="425.95" y2="1223.4" stroke="#000" stroke-width="1.55"/>
<line x1="506.61" y1="1216.7" x2="506.61" y2="1223.4" stroke="#000" stroke-width="1.55"/>
<line x1="587.28" y1="1216.7" x2="587.28" y2="1223.4" stroke="#000" stroke-width="1.55"/>
<line x1="667.94" y1="1216.7" x2="667.94" y2="1223.4" stroke="#000" stroke-width="1.55"/>
<line x1="748.61" y1="1216.7" x2="748.61" y2="1223.4" stroke="#000" stroke-width="1.55"/>
<line x1="829.27" y1="1216.7" x2="829.27" y2="1223.4" stroke="#000" stroke-width="1.55"/>
<line x1="909.94" y1="1216.7" x2="909.94" y2="1223.4" stroke="#000" stroke-width="1.55"/>
<line x1="990.6" y1="1216.7" x2="990.6" y2="1223.4" stroke="#000" stroke-width="1.55"/>
<line x1="1071.27" y1="1216.7" x2="1071.27" y2="1223.4" stroke="#000" stroke-width="1.55"/>
<line x1="1151.93" y1="1216.7" x2="1151.93" y2="1223.4" stroke="#000" stroke-width="1.55"/>
<line x1="1232.6" y1="1216.7" x2="1232.6" y2="1223.4" stroke="#000" stroke-width="1.55"/>
<line x1="1313.26" y1="1216.7" x2="1313.26" y2="1223.4" stroke="#000" stroke-width="1.55"/>
<line x1="120.95" y1="392.95" x2="127.65" y2="392.95" stroke="#000" stroke-width="1.55"/>
<text x="114.2" y="403.95" font-size="27" text-anchor="end">0</text>
<line x1="120.95" y1="304.32" x2="127.65" y2="304.32" stroke="#000" stroke-width="1.55"/>
<text x="114.2" y="315.32" font-size="27" text-anchor="end">500</text>
<line x1="120.95" y1="215.68" x2="127.65" y2="215.68" stroke="#000" stroke-width="1.55"/>
<text x="114.2" y="226.68" font-size="27" text-anchor="end">1000</text>
<line x1="120.95" y1="127.05" x2="127.65" y2="127.05" stroke="#000" stroke-width="1.55"/>
<text x="114.2" y="138.05" font-size="27" text-anchor="end">1500</text>
<line x1="120.95" y1="38.42" x2="127.65" y2="38.42" stroke="#000" stroke-width="1.55"/>
<text x="114.2" y="49.42" font-size="27" text-anchor="end">2000</text>
<line x1="120.95" y1="804.8" x2="127.65" y2="804.8" stroke="#000" stroke-width="1.55"/>
<text x="114.2" y="815.8" font-size="27" text-anchor="end">0</text>
<line x1="120.95" y1="728.92" x2="127.65" y2="728.92" stroke="#000" stroke-width="1.55"/>
<text x="114.2" y="739.92" font-size="27" text-anchor="end">20</text>
<line x1="120.95" y1="653.04" x2="127.65" y2="653.04" stroke="#000" stroke-width="1.55"/>
<text x="114.2" y="664.04" font-size="27" text-anchor="end">40</text>
<line x1="120.95" y1="577.16" x2="127.65" y2="577.16" stroke="#000" stroke-width="1.55"/>
<text x="114.2" y="588.16" font-size="27" text-anchor="end">60</text>
<line x1="120.95" y1="501.28" x2="127.65" y2="501.28" stroke="#000" stroke-width="1.55"/>
<text x="114.2" y="512.28" font-size="27" text-anchor="end">80</text>
<line x1="120.95" y1="425.4" x2="127.65" y2="425.4" stroke="#000" stroke-width="1.55"/>
<text x="114.2" y="436.4" font-size="27" text-anchor="end">100</text>
<line x1="120.95" y1="1181.55" x2="127.65" y2="1181.55" stroke="#000" stroke-width="1.55"/>
<text x="114.2" y="1188.55" font-size="18.4" text-anchor="end">−400</text>
<line x1="120.95" y1="1120.25" x2="127.65" y2="1120.25" stroke="#000" stroke-width="1.55"/>
<text x="114.2" y="1127.25" font-size="18.4" text-anchor="end">−200</text>
<line x1="120.95" y1="1058.95" x2="127.65" y2="1058.95" stroke="#000" stroke-width="1.55"/>
<text x="114.2" y="1065.95" font-size="18.4" text-anchor="end">0</text>
<line x1="120.95" y1="997.65" x2="127.65" y2="997.65" stroke="#000" stroke-width="1.55"/>
<text x="114.2" y="1004.65" font-size="18.4" text-anchor="end">200</text>
<line x1="120.95" y1="936.35" x2="127.65" y2="936.35" stroke="#000" stroke-width="1.55"/>
<text x="114.2" y="943.35" font-size="18.4" text-anchor="end">400</text>
<line x1="120.95" y1="875.05" x2="127.65" y2="875.05" stroke="#000" stroke-width="1.55"/>
<text x="114.2" y="882.05" font-size="18.4" text-anchor="end">600</text>
<rect x="1235.6" y="14.02" width="111.8" height="36.6" rx="6" fill="#fff" fill-opacity="0.85" stroke="#1a1a1a" stroke-width="1.9"/>
<text x="1340.1" y="39.72" font-size="23.3" font-weight="bold" text-anchor="end">εικ. 1-1</text>
<rect x="1235.6" y="425.7" width="111.8" height="36.6" rx="6" fill="#fff" fill-opacity="0.85" stroke="#1a1a1a" stroke-width="1.9"/>
<text x="1340.1" y="451.4" font-size="23.3" font-weight="bold" text-anchor="end">εικ. 1-2</text>
<rect x="1235.6" y="837.35" width="111.8" height="36.6" rx="6" fill="#fff" fill-opacity="0.85" stroke="#1a1a1a" stroke-width="1.9"/>
<text x="1340.1" y="863.05" font-size="23.3" font-weight="bold" text-anchor="end">εικ. 1-3</text>
<text x="183.95" y="1249.4" font-size="25.1" text-anchor="middle">00:00</text>
<text x="183.95" y="1277.2" font-size="25.1" text-anchor="middle">10/12</text>
<text x="264.62" y="1249.4" font-size="25.1" text-anchor="middle">12:00</text>
<text x="345.28" y="1249.4" font-size="25.1" text-anchor="middle">00:00</text>
<text x="345.28" y="1277.2" font-size="25.1" text-anchor="middle">11/12</text>
<text x="425.95" y="1249.4" font-size="25.1" text-anchor="middle">12:00</text>
<text x="506.61" y="1249.4" font-size="25.1" text-anchor="middle">00:00</text>
<text x="506.61" y="1277.2" font-size="25.1" text-anchor="middle">12/12</text>
<text x="587.28" y="1249.4" font-size="25.1" text-anchor="middle">12:00</text>
<text x="667.94" y="1249.4" font-size="25.1" text-anchor="middle">00:00</text>
<text x="667.94" y="1277.2" font-size="25.1" text-anchor="middle">13/12</text>
<text x="748.61" y="1249.4" font-size="25.1" text-anchor="middle">12:00</text>
<text x="829.27" y="1249.4" font-size="25.1" text-anchor="middle">00:00</text>
<text x="829.27" y="1277.2" font-size="25.1" text-anchor="middle">14/12</text>
<text x="909.94" y="1249.4" font-size="25.1" text-anchor="middle">12:00</text>
<text x="990.6" y="1249.4" font-size="25.1" text-anchor="middle">00:00</text>
<text x="990.6" y="1277.2" font-size="25.1" text-anchor="middle">15/12</text>
<text x="1071.27" y="1249.4" font-size="25.1" text-anchor="middle">12:00</text>
<text x="1151.93" y="1249.4" font-size="25.1" text-anchor="middle">00:00</text>
<text x="1151.93" y="1277.2" font-size="25.1" text-anchor="middle">16/12</text>
<text x="1232.6" y="1249.4" font-size="25.1" text-anchor="middle">12:00</text>
<text x="1313.26" y="1249.4" font-size="25.1" text-anchor="middle">00:00</text>
<text x="1313.26" y="1277.2" font-size="25.1" text-anchor="middle">17/12</text>
<text transform="translate(32.3 203.34) rotate(-90)" font-size="23" font-weight="bold" text-anchor="middle" fill="#000">Ισχύς (MW)</text>
<text transform="translate(49.6 615.1) rotate(-90)" font-size="23" font-weight="bold" text-anchor="middle" fill="#008000">Επίπεδο Φόρτισης %</text>
<text transform="translate(49.6 1026.88) rotate(-90)" font-size="23" font-weight="bold" text-anchor="middle" fill="#000">Μεταβολή Συμβατικής (MW/ώρα)</text>
</svg></body></html>
